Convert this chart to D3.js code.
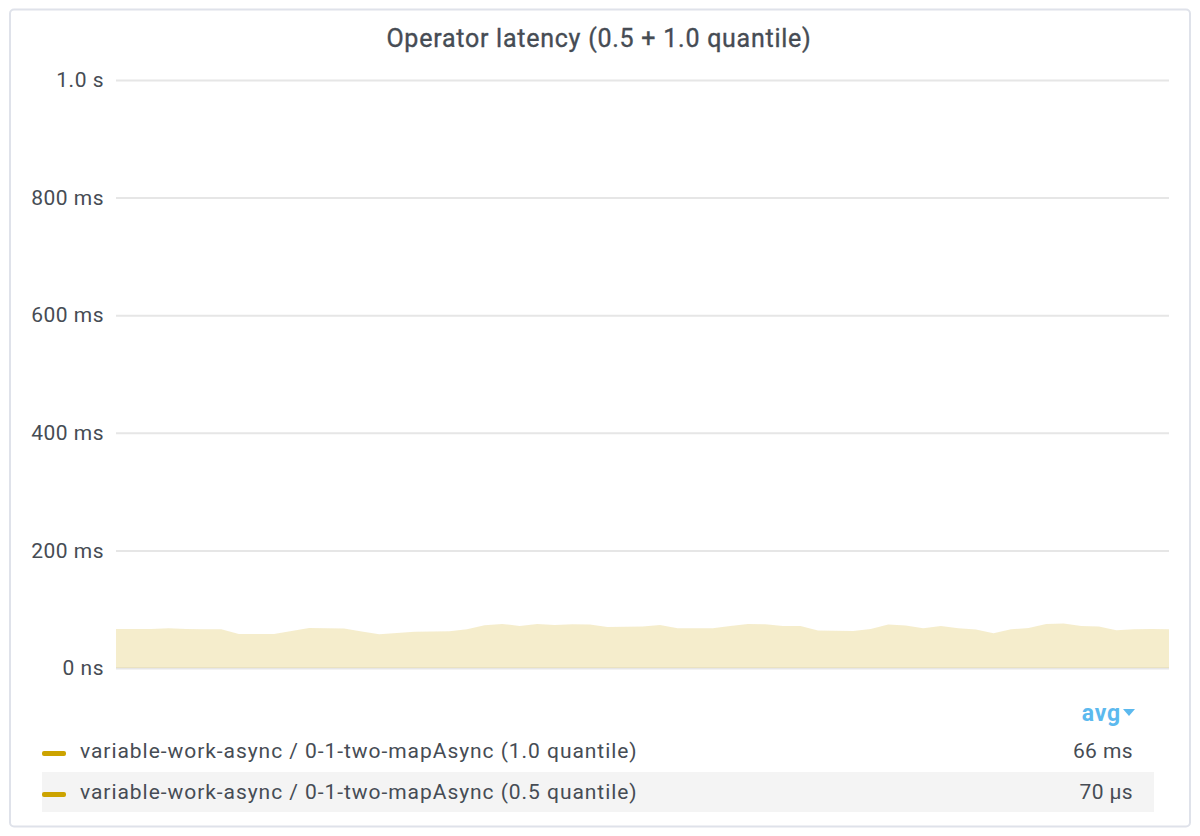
<!DOCTYPE html>
<html>
<head>
    <title>Operator latency</title>
    <script src="https://d3js.org/d3.v7.min.js"></script>
    <style>
        body { margin: 0; background: #fff; font-family: Roboto, "Noto Sans", sans-serif; }
        svg text { font-family: Roboto, "Noto Sans", sans-serif; }
    </style>
</head>
<body>
<script>
    // chart values (ms), one sample per step
    const title = "Operator latency (0.5 + 1.0 quantile)";
    const yTicks = [0, 200, 400, 600, 800, 1000];
    const yTickLabels = ["0 ns", "200 ms", "400 ms", "600 ms", "800 ms", "1.0 s"];

    const q100 = [66.4, 66.4, 66.4, 67.6, 66.4, 66.0, 65.8, 57.8, 57.8, 58.0,
                  63.0, 68.1, 67.6, 67.0, 62.0, 57.3, 59.5, 61.8, 62.1, 62.4,
                  65.8, 72.7, 75.0, 71.6, 75.0, 73.3, 74.4, 73.9, 69.9, 70.1,
                  70.4, 73.3, 67.6, 67.6, 67.6, 71.5, 75.0, 74.4, 71.6, 71.6,
                  63.6, 63.3, 63.0, 66.4, 73.9, 72.2, 67.6, 71.6, 67.6, 65.3,
                  59.0, 65.8, 68.1, 75.0, 75.6, 71.6, 70.4, 64.1, 65.8, 66.4, 65.8];
    const q050 = [0.07, 0.07, 0.07, 0.07, 0.07, 0.07, 0.07, 0.06, 0.06, 0.06,
                  0.07, 0.07, 0.07, 0.07, 0.07, 0.06, 0.06, 0.07, 0.07, 0.07,
                  0.07, 0.07, 0.08, 0.07, 0.08, 0.07, 0.07, 0.07, 0.07, 0.07,
                  0.07, 0.07, 0.07, 0.07, 0.07, 0.07, 0.08, 0.07, 0.07, 0.07,
                  0.07, 0.07, 0.07, 0.07, 0.07, 0.07, 0.07, 0.07, 0.07, 0.07,
                  0.06, 0.07, 0.07, 0.08, 0.08, 0.07, 0.07, 0.07, 0.07, 0.07, 0.07];

    const seriesNames = [
        "variable-work-async / 0-1-two-mapAsync (1.0 quantile)",
        "variable-work-async / 0-1-two-mapAsync (0.5 quantile)"
    ];
    const seriesAvg = ["66 ms", "70 µs"];
    const seriesColor = "#CCA300";

    const width = 1200, height = 836;
    const plot = { left: 116, right: 1169, top: 80, bottom: 668 };
    const textColor = "#464c54";

    const svg = d3.select("body").append("svg")
        .attr("width", width)
        .attr("height", height);

    // panel
    svg.append("rect")
        .attr("x", 10).attr("y", 9.5)
        .attr("width", 1180).attr("height", 817)
        .attr("rx", 4)
        .attr("fill", "#fff")
        .attr("stroke", "#dfe2ea")
        .attr("stroke-width", 2);

    svg.append("text")
        .attr("x", 599).attr("y", 47)
        .attr("text-anchor", "middle")
        .attr("font-size", 25)
        .attr("font-weight", 400)
        .attr("letter-spacing", 0.75)
        .attr("stroke", textColor)
        .attr("stroke-width", 0.35)
        .attr("fill", textColor)
        .text(title);

    const x = d3.scaleLinear()
        .domain([0, q100.length - 1])
        .range([plot.left, plot.right]);

    const y = d3.scaleLinear()
        .domain([0, 1000])
        .range([plot.bottom, plot.top]);

    // grid + y labels
    const yAxis = d3.axisLeft(y)
        .tickValues(yTicks)
        .tickFormat((d, i) => yTickLabels[i])
        .tickSize(-(plot.right - plot.left))
        .tickPadding(12);

    const gy = svg.append("g")
        .attr("transform", `translate(${plot.left},0)`)
        .call(yAxis);
    gy.select(".domain").remove();
    gy.selectAll(".tick line").attr("stroke", "#e6e6e6").attr("stroke-width", 2);
    gy.selectAll(".tick text")
        .attr("font-size", 21)
        .attr("letter-spacing", 0.5)
        .attr("fill", textColor);

    const area = d3.area()
        .x((d, i) => x(i))
        .y0(y(0))
        .y1(d => y(d));

    svg.append("path")
        .datum(q100)
        .attr("d", area)
        .attr("fill", seriesColor)
        .attr("fill-opacity", 0.2);

    svg.append("path")
        .datum(q050)
        .attr("d", area)
        .attr("fill", seriesColor)
        .attr("fill-opacity", 0.2);

    // legend
    const legend = svg.append("g");

    legend.append("text")
        .attr("x", 1121).attr("y", 721)
        .attr("text-anchor", "end")
        .attr("font-size", 23)
        .attr("font-weight", 700)
        .attr("letter-spacing", 0.8)
        .attr("fill", "#5cb9ee")
        .text("avg");
    legend.append("path")
        .attr("d", "M1123,709 L1135,709 L1129,716 Z")
        .attr("fill", "#5cb9ee");

    const rowY = [751, 792];
    seriesNames.forEach((name, i) => {
        if (i === 1) {
            legend.append("rect")
                .attr("x", 42).attr("y", 772)
                .attr("width", 1112).attr("height", 40)
                .attr("fill", "#f4f4f4");
        }
        legend.append("rect")
            .attr("x", 42).attr("y", rowY[i])
            .attr("width", 24).attr("height", 5)
            .attr("rx", 2)
            .attr("fill", seriesColor);
        legend.append("text")
            .attr("x", 80).attr("y", rowY[i] + 7)
            .attr("font-size", 21)
            .attr("letter-spacing", 0.95)
            .attr("fill", textColor)
            .text(name);
        legend.append("text")
            .attr("x", 1133).attr("y", rowY[i] + 7)
            .attr("text-anchor", "end")
            .attr("font-size", 21)
            .attr("letter-spacing", 0.4)
            .attr("fill", textColor)
            .text(seriesAvg[i]);
    });
</script>
</body>
</html>
